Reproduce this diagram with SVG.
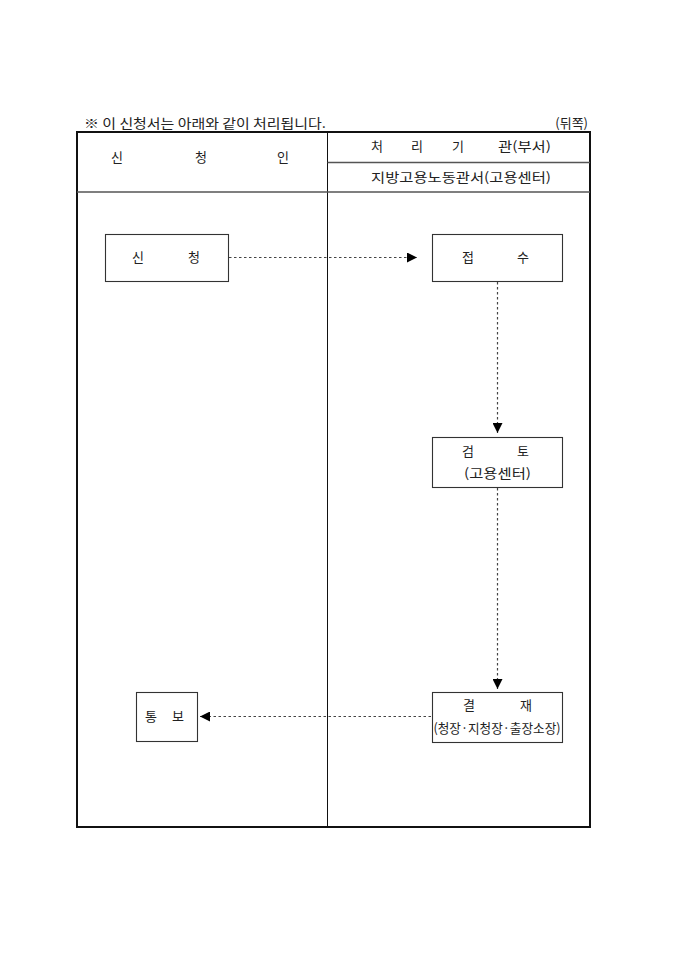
<svg xmlns="http://www.w3.org/2000/svg" width="680" height="962" viewBox="0 0 680 962">
<style>
text{font-family:"Noto Sans CJK KR","Noto Sans",sans-serif;font-size:13px;fill:#222;}
.box{fill:#fff;stroke:#333;stroke-width:1.1;}
.flow{stroke:#444;stroke-width:1.2;stroke-dasharray:2.5 2.5;fill:none;}
</style>
<defs>
<marker id="ah" viewBox="0 0 10 10" refX="10" refY="5" markerWidth="10" markerHeight="10" markerUnits="userSpaceOnUse" orient="auto">
<path d="M0,0 L10,5 L0,10 Z" fill="#000"/>
</marker>
</defs>
<rect width="680" height="962" fill="#fff"/>
<g id="title">
<text x="84" y="128" textLength="242" lengthAdjust="spacingAndGlyphs">※ 이 신청서는 아래와 같이 처리됩니다.</text>
<text x="588" y="128" text-anchor="end">(뒤쪽)</text>
</g>
<g id="table">
<rect x="77" y="132" width="513" height="695" fill="none" stroke="#111" stroke-width="2"/>
<line x1="327.5" y1="132" x2="327.5" y2="827" stroke="#111" stroke-width="1"/>
<line x1="77" y1="192" x2="590" y2="192" stroke="#555" stroke-width="1.3"/>
<line x1="327.5" y1="162.5" x2="590" y2="162.5" stroke="#555" stroke-width="1.3"/>
<text x="111" y="162">신</text>
<text x="195" y="162">청</text>
<text x="277" y="162">인</text>
<text x="371" y="151">처</text>
<text x="411" y="151">리</text>
<text x="452" y="151">기</text>
<text x="498" y="151" textLength="53" lengthAdjust="spacingAndGlyphs">관(부서)</text>
<text x="371" y="182" textLength="180" lengthAdjust="spacingAndGlyphs">지방고용노동관서(고용센터)</text>
</g>
<g id="connectors">
<line class="flow" x1="229" y1="257.5" x2="417" y2="257.5" marker-end="url(#ah)"/>
<line class="flow" x1="497.5" y1="282" x2="497.5" y2="433" marker-end="url(#ah)"/>
<line class="flow" x1="497.5" y1="488" x2="497.5" y2="689" marker-end="url(#ah)"/>
<line class="flow" x1="431" y1="716.5" x2="200" y2="716.5" marker-end="url(#ah)"/>
</g>
<g id="node-apply">
<rect class="box" x="105.5" y="234.5" width="123" height="47"/>
<text x="132" y="262">신</text>
<text x="188" y="262">청</text>
</g>
<g id="node-receive">
<rect class="box" x="432.5" y="234.5" width="130" height="47"/>
<text x="462" y="262">접</text>
<text x="517" y="262">수</text>
</g>
<g id="node-review">
<rect class="box" x="432.5" y="437.5" width="130" height="50"/>
<text x="462" y="456">검</text>
<text x="517" y="456">토</text>
<text x="497.5" y="478" text-anchor="middle" textLength="67" lengthAdjust="spacingAndGlyphs">(고용센터)</text>
</g>
<g id="node-approve">
<rect class="box" x="432.5" y="692.5" width="130" height="50"/>
<text x="463" y="710">결</text>
<text x="520" y="710">재</text>
<text x="497" y="733" text-anchor="middle" textLength="127" lengthAdjust="spacingAndGlyphs">(청장·지청장·출장소장)</text>
</g>
<g id="node-notify">
<rect class="box" x="136.5" y="692.5" width="61" height="49"/>
<text x="145" y="721">통</text>
<text x="172" y="721">보</text>
</g>
</svg>
